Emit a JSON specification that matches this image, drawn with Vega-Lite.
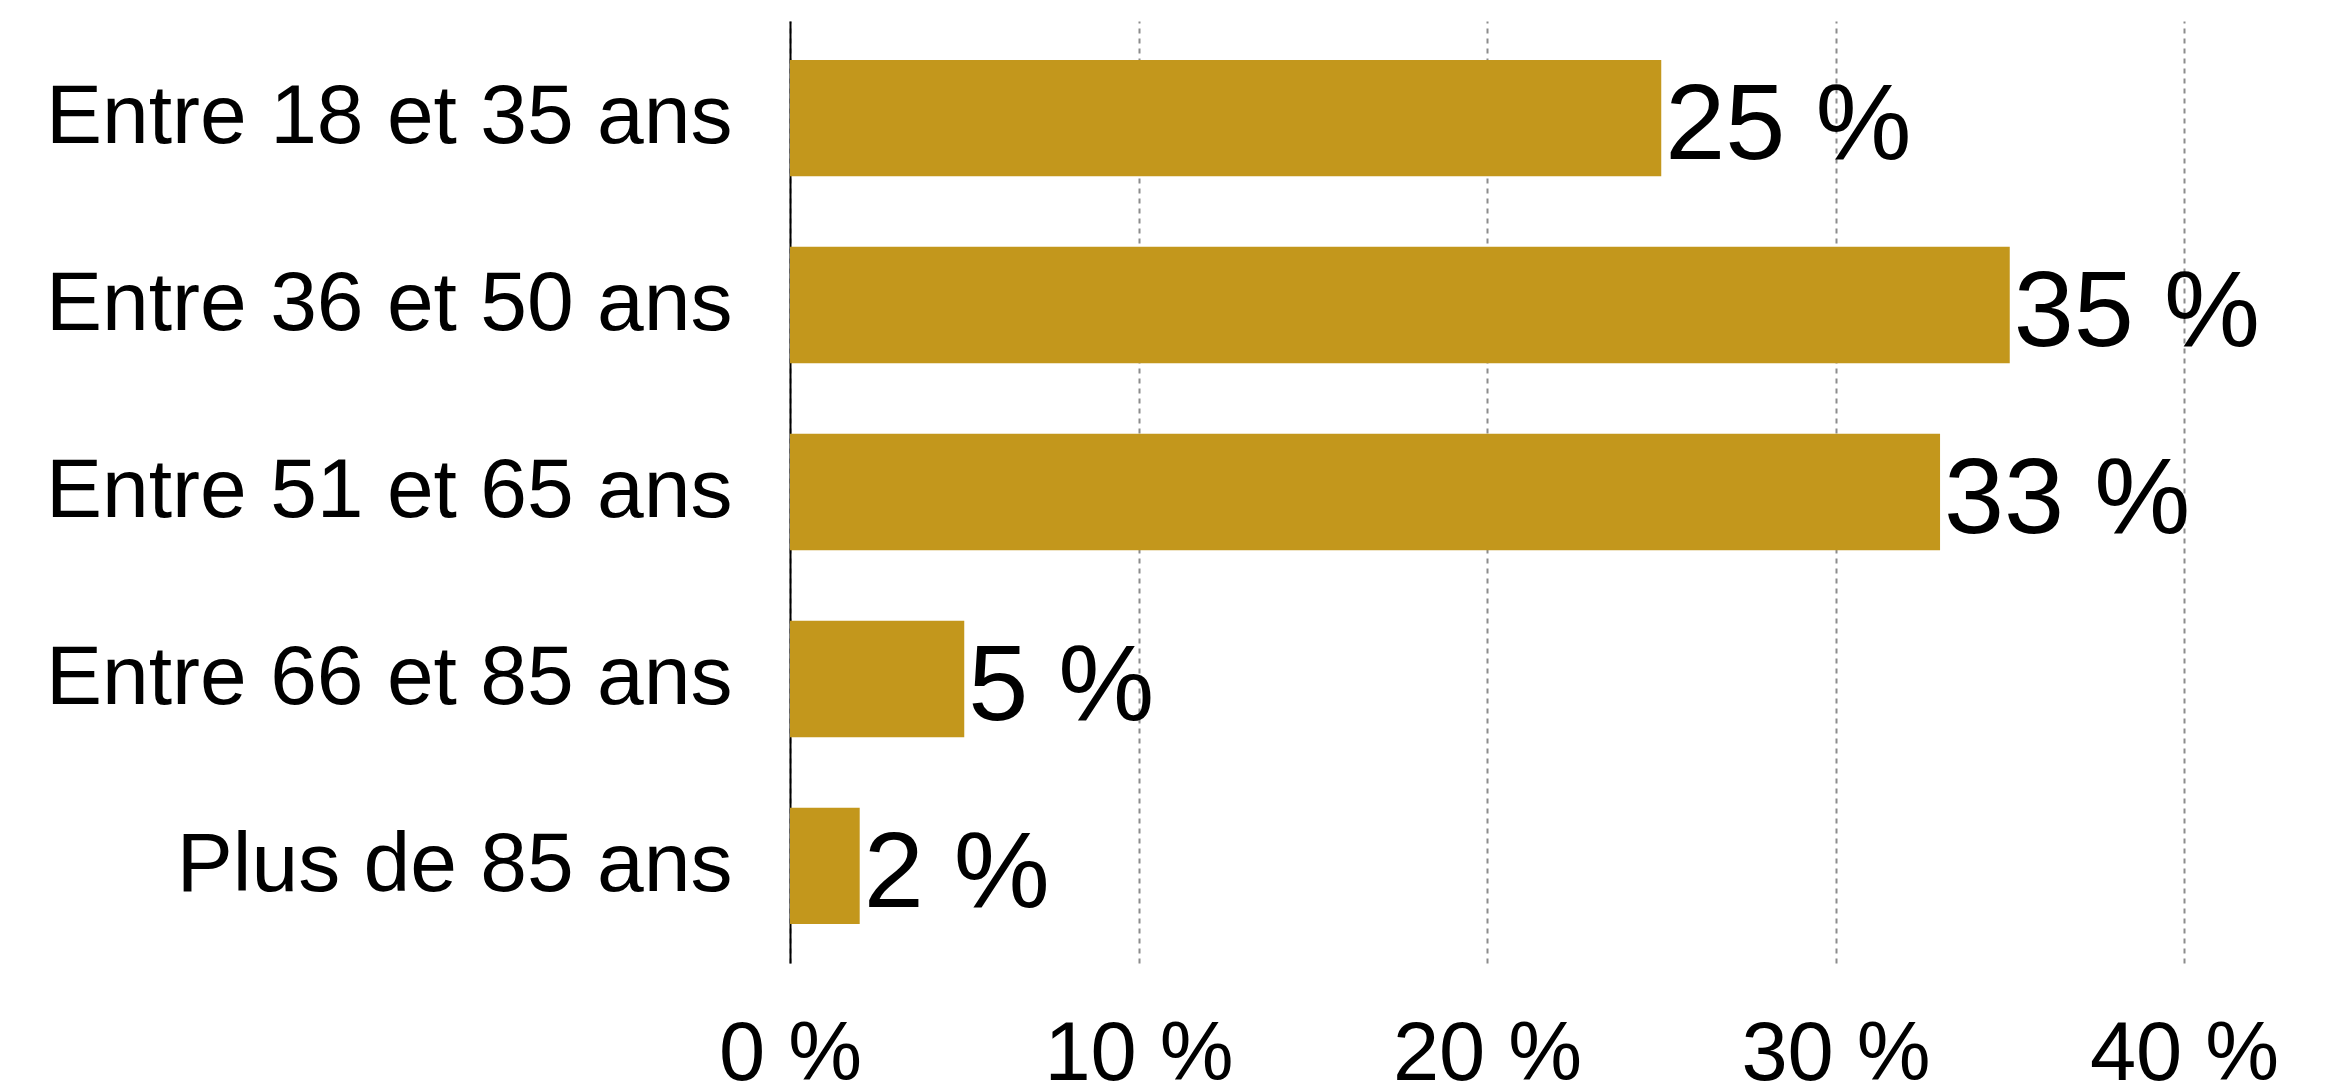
{
  "$schema": "https://vega.github.io/schema/vega-lite/v6.json",
  "autosize": "none",
  "padding": {"left": 790, "top": 21, "right": 152, "bottom": 126},
  "width": 1394,
  "height": 942,
  "background": "white",
  "config": {
    "view": {"stroke": null},
    "font": "Liberation Sans"
  },
  "data": {
    "values": [
      {"groupe": "Entre 18 et 35 ans", "pct": 25, "etiquette": "25 %"},
      {"groupe": "Entre 36 et 50 ans", "pct": 35, "etiquette": "35 %"},
      {"groupe": "Entre 51 et 65 ans", "pct": 33, "etiquette": "33 %"},
      {"groupe": "Entre 66 et 85 ans", "pct": 5, "etiquette": "5 %"},
      {"groupe": "Plus de 85 ans", "pct": 2, "etiquette": "2 %"}
    ]
  },
  "encoding": {
    "y": {
      "field": "groupe",
      "type": "nominal",
      "sort": null,
      "scale": {"paddingInner": 0.378, "paddingOuter": 0.208},
      "axis": {
        "title": null,
        "ticks": false,
        "domain": true,
        "domainColor": "black",
        "domainWidth": 2,
        "labelFont": "Liberation Sans",
        "labelFontSize": 84,
        "labelColor": "black",
        "labelPadding": 58,
        "labelLimit": 1000
      }
    },
    "x": {
      "field": "pct",
      "type": "quantitative",
      "scale": {"domain": [0, 40], "nice": false},
      "axis": {
        "title": null,
        "values": [0, 10, 20, 30, 40],
        "labelExpr": "datum.value + ' %'",
        "ticks": false,
        "domain": false,
        "grid": true,
        "gridColor": "#8c8c8c",
        "gridWidth": 2,
        "gridDash": [5, 5],
        "labelFont": "Liberation Sans",
        "labelFontSize": 83,
        "labelColor": "black",
        "labelPadding": 50,
        "labelFlush": false,
        "labelOverlap": false,
        "labelLimit": 1000
      }
    }
  },
  "layer": [
    {
      "mark": {"type": "bar", "color": "#C3971C"}
    },
    {
      "mark": {
        "type": "text",
        "align": "left",
        "baseline": "middle",
        "dx": 4,
        "dy": 9,
        "fontSize": 108,
        "font": "Liberation Sans",
        "color": "black"
      },
      "encoding": {
        "text": {"field": "etiquette", "type": "nominal"}
      }
    }
  ]
}
